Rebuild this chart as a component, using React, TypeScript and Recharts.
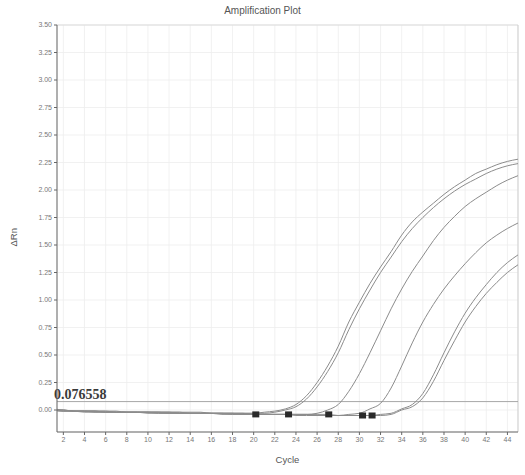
import { ComposedChart, Line, Scatter, XAxis, YAxis, CartesianGrid, ReferenceLine } from 'recharts';

const cycles = [1, 2, 3, 4, 5, 6, 7, 8, 9, 10, 11, 12, 13, 14, 15, 16, 17, 18, 19, 20, 21, 22, 23, 24, 25, 26, 27, 28, 29, 30, 31, 32, 33, 34, 35, 36, 37, 38, 39, 40, 41, 42, 43, 44, 45];

// replicate pairs + singles, delta Rn per cycle
const wellA = [0.01, 0.0, -0.01, -0.01, -0.01, -0.01, -0.01, -0.02, -0.02, -0.02, -0.02, -0.02, -0.02, -0.02, -0.02, -0.03, -0.03, -0.03, -0.03, -0.03, -0.02, -0.01, 0.01, 0.05, 0.13, 0.25, 0.4, 0.58, 0.8, 0.98, 1.15, 1.3, 1.44, 1.59, 1.71, 1.8, 1.88, 1.96, 2.03, 2.09, 2.15, 2.19, 2.23, 2.26, 2.28];
const wellA2 = [0.0, 0.0, -0.01, -0.01, -0.01, -0.01, -0.02, -0.02, -0.02, -0.02, -0.02, -0.02, -0.02, -0.03, -0.03, -0.03, -0.03, -0.03, -0.03, -0.03, -0.03, -0.02, 0.0, 0.03, 0.1, 0.21, 0.35, 0.52, 0.73, 0.92, 1.09, 1.25, 1.39, 1.53, 1.65, 1.75, 1.84, 1.92, 1.99, 2.05, 2.1, 2.15, 2.19, 2.22, 2.24];
const wellB = [0.0, 0.0, -0.01, -0.01, -0.01, -0.02, -0.02, -0.02, -0.02, -0.02, -0.02, -0.02, -0.03, -0.03, -0.03, -0.03, -0.03, -0.03, -0.03, -0.04, -0.04, -0.04, -0.04, -0.04, -0.04, -0.03, 0.0, 0.05, 0.17, 0.33, 0.52, 0.72, 0.92, 1.1, 1.26, 1.4, 1.54, 1.66, 1.76, 1.85, 1.92, 1.98, 2.04, 2.09, 2.13];
const wellC = [0.0, -0.01, -0.01, -0.01, -0.02, -0.02, -0.02, -0.02, -0.02, -0.02, -0.03, -0.03, -0.03, -0.03, -0.03, -0.03, -0.03, -0.04, -0.04, -0.04, -0.04, -0.04, -0.04, -0.04, -0.04, -0.04, -0.04, -0.05, -0.04, -0.03, 0.01, 0.06, 0.2, 0.4, 0.61, 0.8, 0.96, 1.1, 1.22, 1.33, 1.43, 1.52, 1.59, 1.65, 1.7];
const wellD = [0.0, -0.01, -0.01, -0.01, -0.01, -0.02, -0.02, -0.02, -0.02, -0.02, -0.02, -0.03, -0.03, -0.03, -0.03, -0.03, -0.03, -0.03, -0.04, -0.04, -0.04, -0.04, -0.04, -0.04, -0.04, -0.05, -0.05, -0.05, -0.05, -0.05, -0.05, -0.04, -0.03, 0.01, 0.05, 0.15, 0.32, 0.52, 0.71, 0.88, 1.02, 1.14, 1.25, 1.34, 1.41];
const wellD2 = [0.0, -0.01, -0.01, -0.02, -0.02, -0.02, -0.02, -0.02, -0.02, -0.03, -0.03, -0.03, -0.03, -0.03, -0.03, -0.03, -0.04, -0.04, -0.04, -0.04, -0.04, -0.04, -0.04, -0.05, -0.05, -0.05, -0.05, -0.05, -0.05, -0.05, -0.05, -0.05, -0.04, 0.0, 0.03, 0.11, 0.26, 0.45, 0.63, 0.8, 0.94, 1.06, 1.16, 1.25, 1.32];

// Ct markers sitting on the baseline
const ctCycles = [20.2, 23.3, 27.1, 30.3, 31.2];
const ctValues = [-0.04, -0.04, -0.04, -0.05, -0.05];

const THRESHOLD = 0.076558;
const xTicks = [2, 4, 6, 8, 10, 12, 14, 16, 18, 20, 22, 24, 26, 28, 30, 32, 34, 36, 38, 40, 42, 44];
const yTicks = [0, 0.25, 0.5, 0.75, 1, 1.25, 1.5, 1.75, 2, 2.25, 2.5, 2.75, 3, 3.25, 3.5];

const data = cycles.map((c, i) => ({
  cycle: c,
  a: wellA[i],
  a2: wellA2[i],
  b: wellB[i],
  c: wellC[i],
  d: wellD[i],
  d2: wellD2[i],
}));

const ctPoints = ctCycles.map((c, i) => ({ cycle: c, ct: ctValues[i] }));

const LINE = '#8c8c8c';
const FONT = 'Liberation Sans, Arial, sans-serif';
const tickStyle = { fontSize: 7, fill: '#777', fontFamily: FONT };

const Square = (props: any) => (
  <rect x={props.cx - 3.5} y={props.cy - 3} width={7} height={6} fill="#2a2a2a" />
);

const ThresholdLabel = (props: any) => {
  const vb = props.viewBox || {};
  return (
    <text
      x={vb.x - 3}
      y={vb.y - 3}
      fontFamily="Liberation Serif, Times New Roman, serif"
      fontWeight="bold"
      fontSize={14}
      fill="#3a3a3a"
    >
      {String(THRESHOLD)}
    </text>
  );
};

export default function App() {
  const keys = ['a', 'a2', 'b', 'c', 'd', 'd2'];
  return (
    <div style={{ position: 'absolute', left: 0, top: 0, width: 525, height: 475, background: '#fff' }}>
      <div
        style={{
          position: 'absolute',
          top: 5,
          left: 0,
          width: 525,
          textAlign: 'center',
          fontFamily: FONT,
          fontSize: 10,
          color: '#555',
        }}
      >
        Amplification Plot
      </div>
      <ComposedChart width={525} height={475} data={data} margin={{ top: 25, right: 7, bottom: 0, left: 0 }}>
        <CartesianGrid stroke="#eeeeee" strokeWidth={0.8} />
        <XAxis
          dataKey="cycle"
          type="number"
          domain={[1.4, 45]}
          ticks={xTicks}
          allowDataOverflow
          height={43}
          tick={tickStyle}
          tickSize={3}
          stroke="#666"
          label={{ value: 'Cycle', position: 'insideBottom', offset: 12, style: { fontSize: 9.5, fill: '#555', fontFamily: FONT } }}
        />
        <YAxis
          type="number"
          domain={[-0.2, 3.5]}
          ticks={yTicks}
          allowDataOverflow
          width={57}
          tick={tickStyle}
          tickSize={3}
          tickFormatter={(v: number) => v.toFixed(2)}
          stroke="#666"
          label={{ value: 'ΔRn', angle: -90, position: 'insideLeft', offset: 14, dy: 18, style: { fontSize: 9.5, fill: '#555', fontFamily: FONT } }}
        />
        <ReferenceLine y={3.5} stroke="#dcdcdc" />
        <ReferenceLine x={45} stroke="#cfcfcf" />
        <ReferenceLine y={THRESHOLD} stroke="#a8a8a8" strokeWidth={1} label={<ThresholdLabel />} />
        {keys.map((k) => (
          <Line
            key={k}
            dataKey={k}
            type="monotone"
            stroke={LINE}
            strokeWidth={1}
            dot={false}
            isAnimationActive={false}
          />
        ))}
        <Scatter data={ctPoints} dataKey="ct" shape={<Square />} isAnimationActive={false} />
      </ComposedChart>
    </div>
  );
}
